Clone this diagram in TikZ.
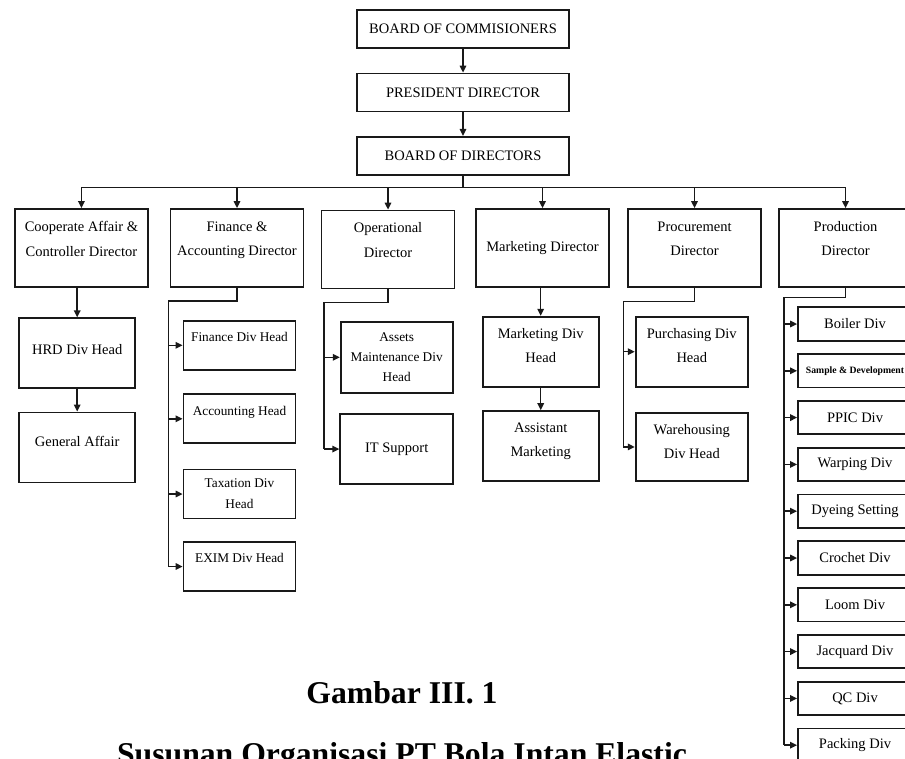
\documentclass[tikz,border=0pt]{standalone}
\usepackage{fontspec}
\setmainfont{Liberation Serif}
\usetikzlibrary{arrows.meta, positioning}

\begin{document}
\begin{tikzpicture}[
    x=1pt, y=-1pt,
    font=\fontsize{14.5}{24.5}\selectfont,
    box/.style={
      draw=black!90, line width=1.8pt,
      align=center, inner sep=0pt
    },
    topbox/.style={box, minimum width=212pt, minimum height=38pt},
    dirbox/.style={box, minimum width=133pt, minimum height=78pt},
    subbox/.style={box, minimum width=116pt, minimum height=70pt},
    finbox/.style={box, minimum width=112pt, minimum height=49pt,
      font=\fontsize{13.3}{21}\selectfont},
    prodbox/.style={box, minimum width=114pt, minimum height=33.5pt},
    lift/.style={text depth=#1},
    line/.style={draw=black!90, line width=1.5pt},
    arrow/.style={line, -{Triangle[length=7pt,width=6.5pt]}},
    caption/.style={font=\fontsize{31.7}{36}\selectfont\bfseries, anchor=base}
]
\useasboundingbox (0,0) rectangle (905,758);
\clip (0,0) rectangle (905,758);

% --- Top chain ---
\node[topbox] (boc) at (463,28.7) {BOARD OF COMMISIONERS};
\node[topbox, below=24pt of boc] (pd) {PRESIDENT DIRECTOR};
\node[topbox, below=23.5pt of pd] (bod) {BOARD OF DIRECTORS};
\coordinate (bus) at (463,187.7);

% --- Directors ---
\node[dirbox, lift=18.6pt] (coop) at (81.4,248) {Cooperate Affair \&\\Controller Director};
\node[dirbox, lift=18.6pt] (fin) at (237,248) {Finance \&\\Accounting Director};
\node[dirbox, lift=18.6pt] (ops) at (388,249.5) {Operational\\Director};
\node[dirbox] (mkt) at (542.5,248) {Marketing Director};
\node[dirbox, lift=18.6pt] (proc) at (694.5,248) {Procurement\\Director};
\node[dirbox, lift=18.6pt] (prod) at (845.5,248) {Production\\Director};

% --- Cooperate column ---
\node[subbox, lift=8pt] (hrd) at (77.2,353.3) {HRD Div Head};
\node[subbox, lift=12pt, below=22.4pt of hrd] (ga) {General Affair};

% --- Finance column ---
\node[finbox, lift=16pt] (findiv) at (239.5,345.3) {Finance Div Head};
\node[finbox, lift=15pt, below=22.7pt of findiv] (acc) {Accounting Head};
\node[finbox, below=24.4pt of acc] (tax) {Taxation Div\\Head};
\node[finbox, lift=18pt, below=21.7pt of tax] (exim) {EXIM Div Head};

% --- Operational column ---
\node[subbox, minimum width=112pt, minimum height=71.3pt,
  font=\fontsize{13.3}{19.7}\selectfont] (assets) at (396.7,357.3) {Assets\\Maintenance Div\\Head};
\node[subbox, minimum width=113pt, below=19.3pt of assets] (it) {IT Support};

% --- Marketing column ---
\node[subbox, lift=12pt] (mdh) at (540.7,351.7) {Marketing Div\\Head};
\node[subbox, lift=13pt, below=22.6pt of mdh] (am) {Assistant\\Marketing};

% --- Procurement column ---
\node[subbox, minimum width=112.3pt, lift=12pt] (pur) at (691.8,351.7) {Purchasing Div\\Head};
\node[subbox, minimum width=112.3pt, minimum height=68.3pt, lift=11pt,
  below=24.3pt of pur] (wh) {Warehousing\\Div Head};

% --- Production column ---
\foreach \txt [count=\i] in {Boiler Div,
    {\fontsize{9.7}{11}\selectfont\bfseries Sample \& Development},
    PPIC Div, Warping Div, Dyeing Setting, Crochet Div,
    Loom Div, Jacquard Div, QC Div, Packing Div}
  \node[prodbox] (p\i) at (855,{324+46.8*(\i-1)}) {\txt};

% --- Caption ---
\node[caption] (fig) at (402,703.3) {Gambar III. 1};
\node[caption] (title) at (402,764.3) {Susunan Organisasi PT Bola Intan Elastic};

% --- Arrows ---
\draw[arrow] (boc) -- (pd);
\draw[arrow] (pd) -- (bod);
\draw[line] (bod.south) -- (bod.south |- bus);
\draw[line] (coop.north |- bus) -- (prod.north |- bus);
\foreach \d in {coop,fin,ops,mkt,proc,prod}
  \draw[arrow] (\d.north |- bus) -- (\d.north);

\draw[arrow] (hrd.north |- coop.south) -- (hrd.north);
\draw[arrow] (hrd) -- (ga);
\draw[arrow] (mdh.north |- mkt.south) -- (mdh.north);
\draw[arrow] (mdh) -- (am);

\draw[line] (fin.south) -- ++(0,13) -| ([xshift=-14pt]exim.west);
\foreach \s in {findiv,acc,tax,exim}
  \draw[arrow] ([xshift=-14pt]\s.west) -- (\s.west);

\draw[line] (ops.south) -- ++(0,13) -| ([xshift=-15.5pt]it.west);
\foreach \s in {assets,it}
  \draw[arrow] ([xshift=-15.5pt]\s.west) -- (\s.west);

\draw[line] (proc.south) -- ++(0,13.5) -| ([xshift=-11.5pt]wh.west);
\foreach \s in {pur,wh}
  \draw[arrow] ([xshift=-11.5pt]\s.west) -- (\s.west);

\draw[line] (prod.south) -- ++(0,9.5) -| ([xshift=-13pt]p10.west);
\foreach \i in {1,...,10}
  \draw[arrow] ([xshift=-13pt]p\i.west) -- (p\i.west);

\end{tikzpicture}
\end{document}
